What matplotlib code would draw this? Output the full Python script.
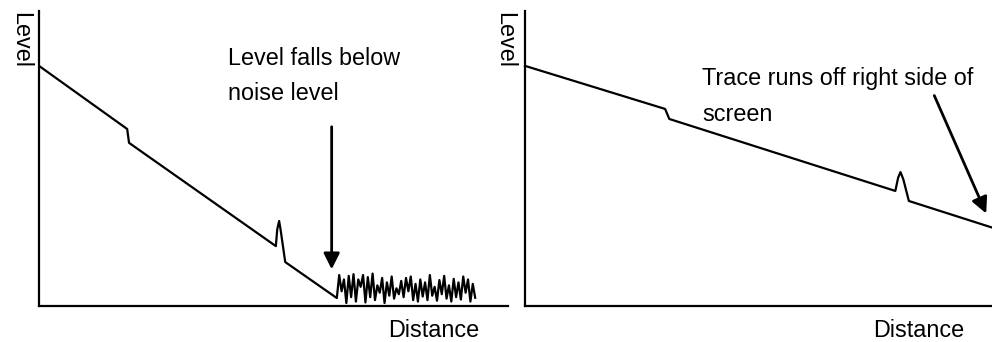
import numpy as np
import matplotlib
matplotlib.use('Agg')
import matplotlib.pyplot as plt

plt.rcParams['font.family'] = ['Liberation Sans', 'DejaVu Sans']

# trace values, distance and level in % of the axis
left_dist = [0.0, 18.8, 19.2, 50.5, 50.8, 51.2, 51.5, 52.5, 63.5]
left_level = [81.4, 60.0, 55.3, 20.3, 26.0, 28.8, 26.0, 14.9, 2.7]

noise_level = [2.7, 10.5, 5.0, 9.0, 1.0, 10.2, 3.0, 10.8, 1.5, 9.0, 6.5, 10.5,
               1.2, 9.8, 3.0, 11.0, 2.0, 7.0, 4.5, 9.5, 1.0, 8.0, 3.5, 10.0,
               2.5, 6.0, 4.0, 8.5, 3.0, 9.5, 5.0, 10.0, 2.0, 7.5, 1.5, 9.0,
               3.2, 8.0, 2.0, 10.5, 3.5, 6.5, 1.8, 8.8, 4.0, 10.2, 2.5, 7.0,
               1.5, 9.2, 3.0, 8.0, 2.2, 10.0, 4.5, 9.0, 1.5, 7.5, 2.8]
noise_dist = np.linspace(63.5, 93.0, len(noise_level))

right_dist = [0.0, 30.0, 30.9, 79.3, 79.9, 80.4, 81.0, 82.2, 100.0]
right_level = [81.4, 66.8, 63.4, 39.0, 43.5, 45.4, 43.0, 35.6, 26.6]

fig = plt.figure(figsize=(9.92, 3.42), dpi=100)
ax1 = fig.add_axes([39/992, 36/342, 469/992, 295/342])
ax2 = fig.add_axes([525/992, 36/342, 467/992, 295/342])

ax1.plot(left_dist + list(noise_dist), left_level + noise_level, color='black', lw=1.6)
ax2.plot(right_dist, right_level, color='black', lw=1.6, clip_on=False)

for ax in (ax1, ax2):
    ax.set_xlim(0, 100)
    ax.set_ylim(0, 100)
    ax.spines['top'].set_visible(False)
    ax.spines['right'].set_visible(False)
    ax.spines['left'].set_linewidth(1.6)
    ax.spines['bottom'].set_linewidth(1.6)
    ax.set_xticks([])
    ax.set_yticks([])

fs = 16.8
ax1.text(40.3, 81.7, 'Level falls below', fontsize=fs, va='baseline')
ax1.text(40.3, 69.8, 'noise level', fontsize=fs, va='baseline')
ax1.annotate('', xy=(62.4, 11.5), xytext=(62.4, 61.7),
             arrowprops=dict(arrowstyle='-|>', color='black', lw=2, mutation_scale=24))

ax2.text(37.9, 74.9, 'Trace runs off right side of', fontsize=fs, va='baseline')
ax2.text(37.9, 62.7, 'screen', fontsize=fs, va='baseline')
ax2.annotate('', xy=(99.0, 30.5), xytext=(87.4, 72.2),
             arrowprops=dict(arrowstyle='-|>', color='black', lw=2, mutation_scale=24))

fig.text(434/992, 5/342, 'Distance', fontsize=fs, ha='center', va='baseline')
fig.text(919/992, 5/342, 'Distance', fontsize=fs, ha='center', va='baseline')
fig.text(21/992, 1 - 12/342, 'Level', fontsize=fs, rotation=270, ha='center', va='top')
fig.text(505/992, 1 - 12/342, 'Level', fontsize=fs, rotation=270, ha='center', va='top')

fig.savefig('out.png', dpi=100)
